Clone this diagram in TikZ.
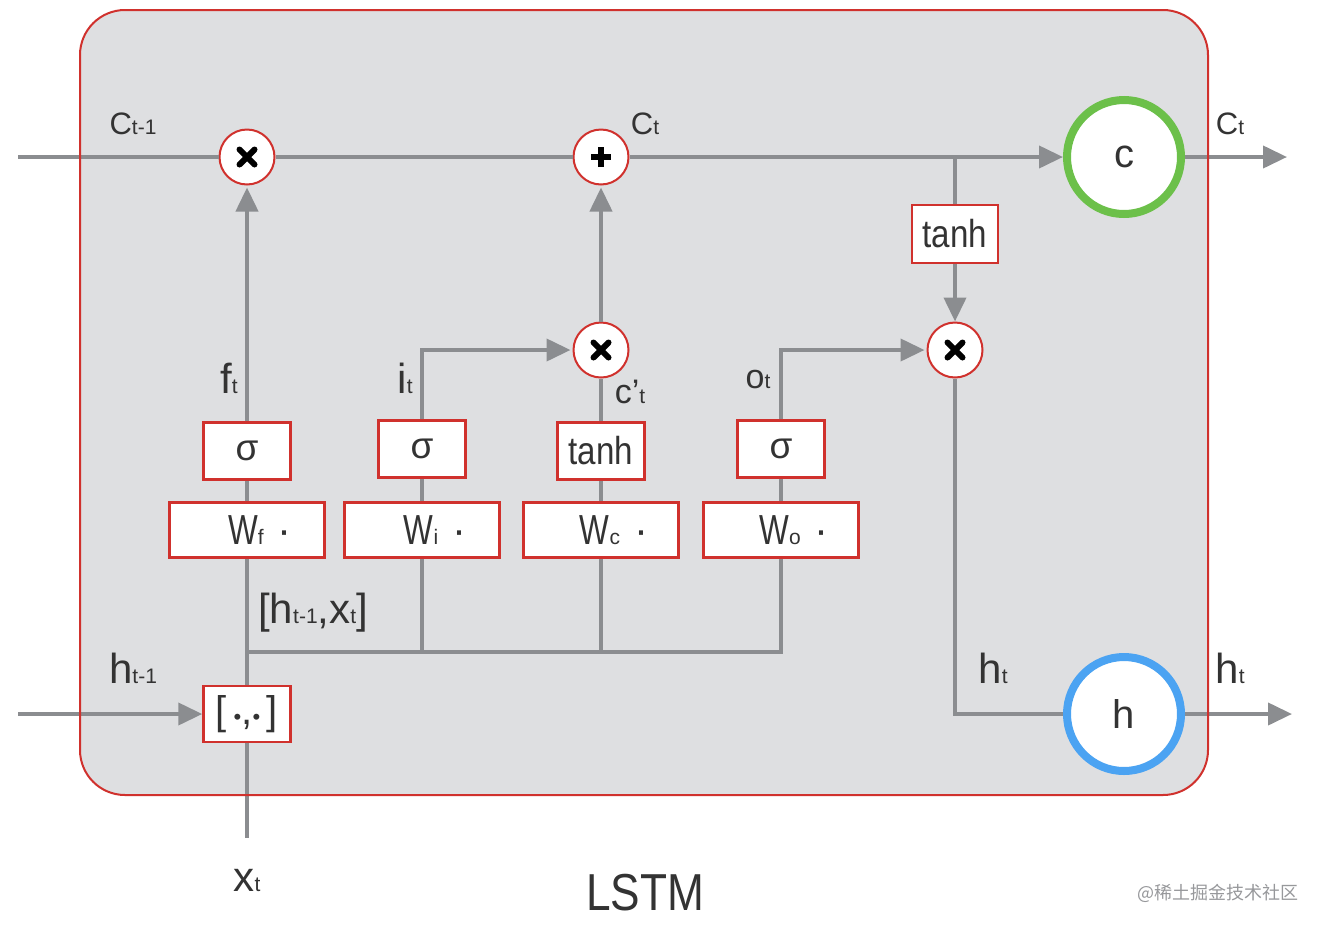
\documentclass[tikz,border=0pt]{standalone}
\usepackage{fontspec}
\setmainfont{Liberation Sans}
\newfontfamily\cjk{Noto Sans CJK SC}
\usetikzlibrary{arrows.meta}
\definecolor{bgg}{HTML}{DEDFE1}
\definecolor{rd}{HTML}{D0312D}
\definecolor{lg}{HTML}{8B8D90}
\definecolor{tx}{HTML}{333333}
\definecolor{grn}{HTML}{6CC04A}
\definecolor{blu}{HTML}{4BA3F2}
\newcommand\sbx[1]{{\fontsize{21}{21}\selectfont #1}}
\newcommand\fs[1]{\fontsize{#1}{#1}\selectfont}
\newcommand\nw[1]{\scalebox{0.85}[1]{#1}}
\begin{document}
\begin{tikzpicture}[x=1pt,y=-1pt,
  ln/.style={draw=lg, line width=4pt},
  arr/.style={ln, -{Triangle[length=24pt,width=22pt]}},
  op/.style={circle, draw=rd, line width=2pt, fill=white, minimum size=55pt, inner sep=0pt},
  opx/.style={op, path picture={
     \draw[line width=6pt,black,line cap=round] ([shift={(-7.5pt,-7.5pt)}]path picture bounding box.center) -- ([shift={(7.5pt,7.5pt)}]path picture bounding box.center);
     \draw[line width=6pt,black,line cap=round] ([shift={(-7.5pt,7.5pt)}]path picture bounding box.center) -- ([shift={(7.5pt,-7.5pt)}]path picture bounding box.center);}},
  opp/.style={op, path picture={
     \draw[line width=5.5pt,black] ([shift={(-10pt,0pt)}]path picture bounding box.center) -- ([shift={(10pt,0pt)}]path picture bounding box.center);
     \draw[line width=5.5pt,black] ([shift={(0pt,-10pt)}]path picture bounding box.center) -- ([shift={(0pt,10pt)}]path picture bounding box.center);}},
  box/.style={draw=rd, line width=2.5pt, fill=white, inner sep=0pt, text=tx},
  sbox/.style={box, minimum width=87pt, minimum height=57pt, font=\fs{37}},
  wbox/.style={box, minimum width=155pt, minimum height=55pt, font=\fs{42}},
  lbl/.style={text=tx, inner sep=0pt, font=\fs{42}},
  big/.style={circle, fill=white, line width=8pt, minimum size=114pt, inner sep=0pt, text=tx, font=\fs{40}}
]
\useasboundingbox (0,0) rectangle (1323,930);
% cell background
\fill[bgg, rounded corners=45pt] (80,10) rectangle (1208,795);

% nodes
\node[opx] (m1) at (247,157) {};
\node[opp] (add) at (601,157) {};
\node[opx] (m2) at (601,350) {};
\node[opx] (m3) at (955,350) {};
\node[big, draw=grn] (C) at (1124,157) {c};
\node[big, draw=blu] (H) at (1124,714) {h};
\node[box, minimum width=86pt, minimum height=58pt, font=\fs{39}] (tc) at (955,234) {\nw{tanh}};

\node[sbox] (sf) at (247,451) {σ};
\node[sbox] (si) at (422,449) {σ};
\node[sbox, font=\fs{39}] (tcc) at (601,451) {\nw{tanh}};
\node[sbox] (so) at (781,449) {σ};

\node[wbox] (wf) at (247,530) {\hspace*{26pt}\scalebox{0.75}[1]{W}\sbx{f}\hspace{14pt}·};
\node[wbox] (wi) at (422,530) {\hspace*{26pt}\scalebox{0.75}[1]{W}\sbx{i}\hspace{14pt}·};
\node[wbox] (wc) at (601,530) {\hspace*{26pt}\scalebox{0.75}[1]{W}\sbx{c}\hspace{14pt}·};
\node[wbox] (wo) at (781,530) {\hspace*{26pt}\scalebox{0.75}[1]{W}\sbx{o}\hspace{14pt}·};

\node[box, minimum width=87pt, minimum height=56pt, font=\fs{40}] (cat) at (247,714) {[\,{\fs{22}•},{\fs{22}•}\,]};

% free ends
\coordinate (cin) at (18,157);
\coordinate (cout) at (1287,157);
\coordinate (hin) at (18,714);
\coordinate (hout) at (1292,714);
\coordinate (xin) at (247,838);
\coordinate (br) at (955,157);
\coordinate (bus) at (247,652);

% connectors
\draw[ln] (cin) -- (m1);
\draw[ln] (m1) -- (add);
\draw[arr] (add) -- (C);
\draw[arr] (C) -- (cout);
\draw[ln] (br) -- (tc);
\draw[arr] (tc) -- (m3);
\draw[arr, shorten >=2pt] (sf) -- (m1);
\draw[arr, shorten >=2pt] (si.north) |- (m2);
\draw[ln] (tcc) -- (m2);
\draw[arr, shorten >=2pt] (m2) -- (add);
\draw[arr, shorten >=2pt] (so.north) |- (m3);
\draw[ln] (m3) |- (H);
\draw[arr] (H) -- (hout);
\draw[ln] (wf) -- (sf);
\draw[ln] (wi) -- (si);
\draw[ln] (wc) -- (tcc);
\draw[ln] (wo) -- (so);
\draw[ln] (wf) -- (cat);
\draw[ln] (cat) -- (xin);
\draw[ln] (wi.south) |- (bus);
\draw[ln] (wc.south) |- (bus);
\draw[ln] (wo.south) |- (bus);
\draw[arr] (hin) -- (cat);

% cell border on top
\draw[rd, line width=2pt, rounded corners=45pt] (80,10) rectangle (1208,795);

% labels
\node[lbl, font=\fs{31}] (lc0) at (133,124) {C\sbx{t-1}};
\node[lbl, font=\fs{31}] (lc1) at (645,124) {C\sbx{t}};
\node[lbl, font=\fs{31}] (lc2) at (1230,124) {C\sbx{t}};
\node[lbl] (lf) at (229,378) {f\sbx{t}};
\node[lbl] (li) at (405,378) {i\sbx{t}};
\node[lbl, font=\fs{34}] (lcc) at (630,392) {c'\sbx{t}};
\node[lbl, font=\fs{34}] (lo) at (758,380) {o\sbx{t}};
\node[lbl] (lh0) at (133,668) {h\sbx{t-1}};
\node[lbl] (lh1) at (993,668) {h\sbx{t}};
\node[lbl] (lh2) at (1230,668) {h\sbx{t}};
\node[lbl] (lhx) at (313,613) {[h\sbx{t-1},x\sbx{t}]};
\node[lbl] (lx) at (247,880) {x\sbx{t}};
\node[lbl, font=\fs{52}] (title) at (645,893) {\nw{LSTM}};
\node[text=lg!90, inner sep=0pt, font=\cjk\fs{18}] (wm) at (1218,893) {@稀土掘金技术社区};
\end{tikzpicture}
\end{document}
